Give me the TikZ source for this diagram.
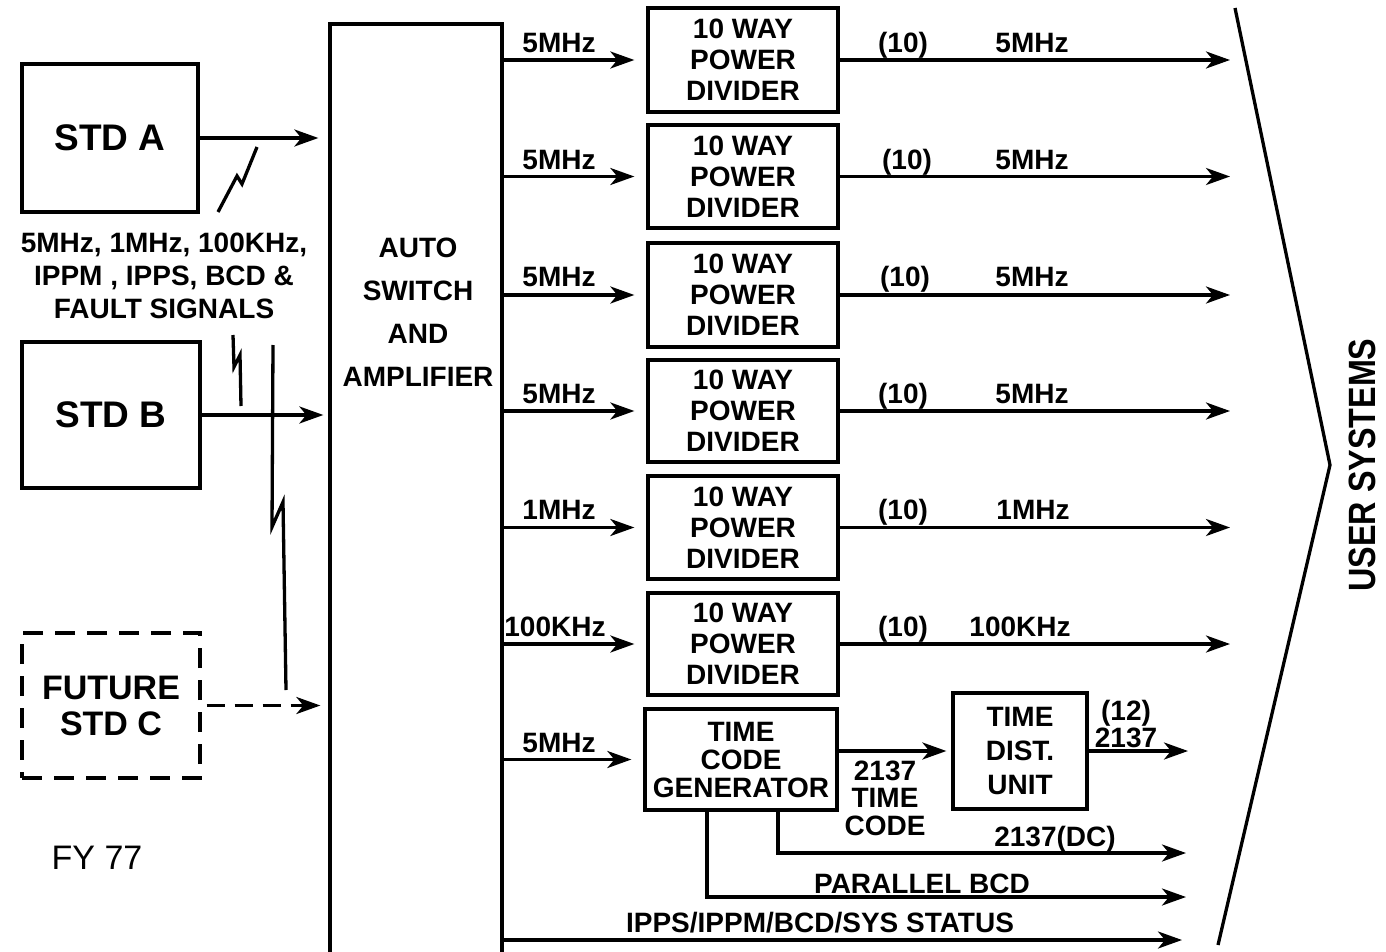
\documentclass[tikz,border=0pt]{standalone}
\usepackage{fontspec}
\setmainfont{Liberation Sans}
\newfontfamily\condfont[FakeStretch=0.85]{Liberation Sans}
\usetikzlibrary{arrows.meta,calc}
\begin{document}
\begin{tikzpicture}[x=1pt,y=-1pt,line width=3.3pt,
  box/.style={draw,rectangle,inner sep=0pt,align=center,font=\fontsize{28}{31}\selectfont\bfseries},
  lbl/.style={inner sep=0pt,align=center,font=\fontsize{28}{28}\selectfont\bfseries},
  arr/.style={-{Stealth[length=24pt,width=17pt,inset=7pt]}},
]
\useasboundingbox[fill=white] (0,0) rectangle (1386,952);

% sources
\node[box,minimum width=176,minimum height=148,font=\fontsize{37}{40}\selectfont\bfseries] (stda) at (110,138) {STD A};
\node[box,minimum width=178,minimum height=146,font=\fontsize{37}{40}\selectfont\bfseries] (stdb) at (111,415) {STD B};
\node[box,dash pattern=on 20pt off 12pt,minimum width=178,minimum height=145,font=\fontsize{34}{36}\selectfont\bfseries] (stdc) at (111,705.5) {FUTURE\\STD C};
\node[lbl,font=\fontsize{28}{33}\selectfont\bfseries] (sig) at (164,276) {5MHz, 1MHz, 100KHz,\\IPPM , IPPS, BCD \&\\FAULT SIGNALS};
\node[inner sep=0pt,font=\fontsize{34}{36}\selectfont,anchor=base] (fy) at (97,869) {FY 77};

% auto switch
\node[draw,rectangle,inner sep=0pt,minimum width=172,minimum height=966] (asw) at (416,507) {};
\node[lbl,font=\fontsize{28}{43}\selectfont\bfseries] (aswt) at (418,312) {AUTO\\SWITCH\\AND\\AMPLIFIER};

% dividers
\node[box,minimum width=190,minimum height=104] (pd1) at (743,60) {10 WAY\\POWER\\DIVIDER};
\node[box,minimum width=190,minimum height=103] (pd2) at (743,176.5) {10 WAY\\POWER\\DIVIDER};
\node[box,minimum width=190,minimum height=104] (pd3) at (743,295) {10 WAY\\POWER\\DIVIDER};
\node[box,minimum width=190,minimum height=102] (pd4) at (743,411) {10 WAY\\POWER\\DIVIDER};
\node[box,minimum width=190,minimum height=103] (pd5) at (743,527.5) {10 WAY\\POWER\\DIVIDER};
\node[box,minimum width=190,minimum height=102] (pd6) at (743,644) {10 WAY\\POWER\\DIVIDER};
\node[box,minimum width=192,minimum height=101,font=\fontsize{28}{28}\selectfont\bfseries] (tcg) at (741,759.5) {TIME\\CODE\\GENERATOR};
\node[box,minimum width=134,minimum height=116,font=\fontsize{28}{34}\selectfont\bfseries] (tdu) at (1020,751) {TIME\\DIST.\\UNIT};

% coordinates for free ends
\coordinate (usr) at (1230,0);
\coordinate (usr2) at (1188,0);
\coordinate (dcy) at (1186,853);
\coordinate (bcdy) at (1186,897);
\coordinate (stat) at (1182,940);

% inputs to auto switch
\draw[arr] (stda.east) -- ($(asw.west |- stda.east)+(-10,0)$);
\draw[arr] (stdb.east) -- ($(asw.west |- stdb.east)+(-5,0)$);
\draw[arr,dash pattern=on 18pt off 10pt] ($(stdc.east)+(5,0)$) -- ($(asw.west |- stdc.east)+(-8,0)$);

% break marks
\draw (218,212) -- (237,176) -- (242,184) -- (257,147);
\draw (233,335) -- (234,367) -- (240,355) -- (241,406);
\draw (273,345) -- (272,527) -- (283,502) -- (286,690);

% divider rows
\foreach \n in {pd1,pd2,pd3,pd4,pd5,pd6}{
  \draw[arr] (asw.east |- \n.west) -- ($(\n.west)+(-12,0)$);
  \draw[arr] (\n.east) -- (\n.east -| usr);
}
\node[lbl,anchor=base] (l1a) at (559,53) {5MHz};
\node[lbl,anchor=base] (l1b) at (903,53) {(10)};
\node[lbl,anchor=base] (l1c) at (1032,53) {5MHz};
\node[lbl,anchor=base] (l2a) at (559,170) {5MHz};
\node[lbl,anchor=base] (l2b) at (907,170) {(10)};
\node[lbl,anchor=base] (l2c) at (1032,170) {5MHz};
\node[lbl,anchor=base] (l3a) at (559,286) {5MHz};
\node[lbl,anchor=base] (l3b) at (905,286) {(10)};
\node[lbl,anchor=base] (l3c) at (1032,286) {5MHz};
\node[lbl,anchor=base] (l4a) at (559,403) {5MHz};
\node[lbl,anchor=base] (l4b) at (903,403) {(10)};
\node[lbl,anchor=base] (l4c) at (1032,403) {5MHz};
\node[lbl,anchor=base] (l5a) at (559,519) {1MHz};
\node[lbl,anchor=base] (l5b) at (903,519) {(10)};
\node[lbl,anchor=base] (l5c) at (1033,519) {1MHz};
\node[lbl,anchor=base] (l6a) at (555,636) {100KHz};
\node[lbl,anchor=base] (l6b) at (903,636) {(10)};
\node[lbl,anchor=base] (l6c) at (1020,636) {100KHz};

% time code row
\draw[arr] (asw.east |- tcg.west) -- ($(tcg.west)+(-12,0)$);
\node[lbl,anchor=base] (l7a) at (559,752) {5MHz};
\draw[arr] (tcg.east |- tdu.west) -- ($(tdu.west)+(-5,0)$);
\node[lbl,font=\fontsize{28}{27.5}\selectfont\bfseries,anchor=north] (tcl) at (885,759) {2137\\TIME\\CODE};
\draw[arr] (tdu.east) -- (tdu.east -| usr2);
\node[lbl,font=\fontsize{28}{27}\selectfont\bfseries,anchor=north] (tdl) at (1126,699) {(12)\\2137};

\draw[arr] ($(tcg.south)+(37,0)$) |- (dcy);
\node[lbl,anchor=base] (ldc) at (1055,846) {2137(DC)};
\draw[arr] ($(tcg.south)+(-34,0)$) |- (bcdy);
\node[lbl,anchor=base] (lbcd) at (922,893) {PARALLEL BCD};
\draw[arr] (asw.east |- stat) -- (stat);
\node[lbl,anchor=base] (lst) at (820,932) {IPPS/IPPM/BCD/SYS STATUS};

% user systems
\coordinate (c1) at (1235,8);
\coordinate (c2) at (1330,465);
\coordinate (c3) at (1218,945);
\draw (c1) -- (c2) -- (c3);
\node[inner sep=0pt,rotate=90,font=\condfont\fontsize{38}{40}\selectfont\bfseries] (usys) at (1362,465) {USER SYSTEMS};
\end{tikzpicture}
\end{document}
